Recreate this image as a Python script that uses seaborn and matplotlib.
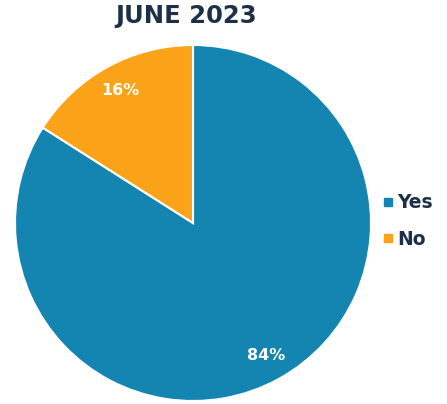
import matplotlib
matplotlib.use("Agg")
import matplotlib.pyplot as plt
from matplotlib.lines import Line2D
import seaborn as sns

title = "JUNE 2023"
labels = ["Yes", "No"]
shares = [84, 16]
colors = ["#1485b0", "#fba318"]

sns.set_theme(style="white")
plt.rcParams["font.family"] = ["DejaVu Sans"]

fig = plt.figure(figsize=(4.47, 4.04), dpi=100)
fig.patch.set_facecolor("white")
ax = fig.add_axes([15 / 447, 3 / 404, 356 / 447, 356 / 404])

wedges, texts, autotexts = ax.pie(
    shares,
    colors=colors,
    startangle=90,
    counterclock=False,
    autopct=lambda p: f"{p:.0f}%",
    pctdistance=0.85,
    wedgeprops=dict(edgecolor="white", linewidth=1.5),
    textprops=dict(color="white", fontsize=11.5, fontweight="bold"),
)
ax.set_xlim(-1, 1)
ax.set_ylim(-1, 1)
ax.set_aspect("equal")
ax.axis("off")

fig.text(186 / 447, 1 - 16 / 404, title, ha="center", va="center",
         fontsize=17.5, fontweight="bold", color="#1d3047")

handles = [Line2D([0], [0], marker="s", linestyle="", markersize=5.5,
                  markerfacecolor=c, markeredgecolor=c) for c in colors]
leg = fig.legend(handles, labels, loc="center left",
                 bbox_to_anchor=(366 / 447, 1 - 221 / 404),
                 frameon=False, handlelength=0.5, handletextpad=0.25,
                 labelspacing=0.95,
                 prop=dict(size=13.5, weight="bold"))
for t in leg.get_texts():
    t.set_color("#1d3047")

fig.savefig("out.png", dpi=100, facecolor="white")
